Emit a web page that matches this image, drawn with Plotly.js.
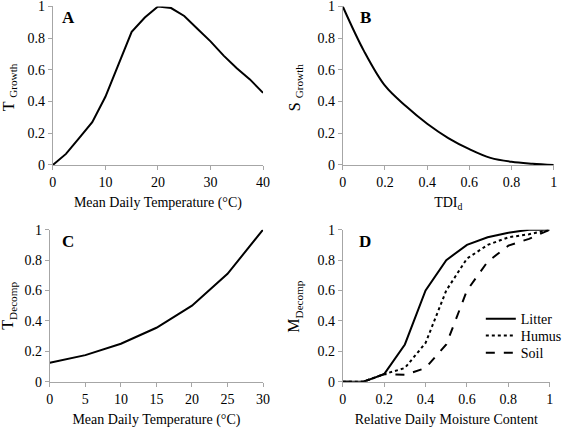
<!DOCTYPE html>
<html>
<head>
<meta charset="utf-8">
<script src="https://cdn.plot.ly/plotly-3.0.1.min.js"></script>
<style>html,body{margin:0;padding:0;background:#fff;}#chart{width:567px;height:430px;}</style>
</head>
<body>
<div id="chart"></div>
<script>
// Panel A: temperature growth response
const tempA = [0, 2.5, 5, 7.5, 10, 12.5, 15, 17.5, 20, 22.5, 25, 27.5, 30, 32.5, 35, 37.5, 40];
const tGrowth = [0, 0.07, 0.17, 0.27, 0.43, 0.64, 0.84, 0.93, 1.0, 0.99, 0.94, 0.86, 0.78, 0.69, 0.61, 0.54, 0.455];
// Panel B: drought index growth response
const tdi = [0, 0.1, 0.2, 0.3, 0.4, 0.5, 0.6, 0.7, 0.8, 0.9, 1.0];
const sGrowth = [1.0, 0.72, 0.5, 0.37, 0.26, 0.17, 0.1, 0.045, 0.02, 0.008, 0];
// Panel C: temperature decomposition response
const tempC = [0, 5, 10, 15, 20, 25, 30];
const tDecomp = [0.125, 0.175, 0.25, 0.355, 0.5, 0.71, 1.0];
// Panel D: moisture decomposition response
const moisture = [0, 0.1, 0.2, 0.3, 0.4, 0.5, 0.6, 0.7, 0.8, 0.9, 1.0];
const litter = [0, 0, 0.05, 0.245, 0.6, 0.8, 0.9, 0.95, 0.98, 1.0, 1.0];
const humus  = [0, 0, 0.05, 0.09, 0.255, 0.6, 0.81, 0.9, 0.95, 0.97, 1.0];
const soil   = [0, 0, 0.05, 0.045, 0.09, 0.245, 0.6, 0.79, 0.895, 0.94, 1.0];
const seriesNames = ['Litter', 'Humus', 'Soil'];
// Tick labels and titles
const yTicks = [0, 0.2, 0.4, 0.6, 0.8, 1];
const yTickText = ['0', '0.2', '0.4', '0.6', '0.8', '1'];
const yTitles = ['T <sub>Growth</sub>', 'S <sub>Growth</sub>', 'T<sub>Decomp</sub>', 'M<sub>Decomp</sub>'];
const panelLetters = ['A', 'B', 'C', 'D'];

const FONT = '"Liberation Serif", "Times New Roman", serif';
const GREY = '#a6a6a6';
const line = (dash, shape) => ({color: '#000', width: 2, dash: dash, shape: shape || 'linear'});

const traces = [
  {x: tempA, y: tGrowth, xaxis: 'x', yaxis: 'y', mode: 'lines', line: line('solid'), showlegend: false},
  {x: tdi, y: sGrowth, xaxis: 'x2', yaxis: 'y2', mode: 'lines', line: line('solid', 'spline'), showlegend: false},
  {x: tempC, y: tDecomp, xaxis: 'x3', yaxis: 'y3', mode: 'lines', line: line('solid'), showlegend: false},
  {x: moisture, y: litter, xaxis: 'x4', yaxis: 'y4', mode: 'lines', line: line('solid'), name: seriesNames[0], legend: 'legend'},
  {x: moisture, y: humus, xaxis: 'x4', yaxis: 'y4', mode: 'lines', line: line('dot'), name: seriesNames[1], legend: 'legend2'},
  {x: moisture, y: soil, xaxis: 'x4', yaxis: 'y4', mode: 'lines', line: line('dash'), name: seriesNames[2], legend: 'legend3'}
];

function xa(domain, range, dtick, anchor, title) {
  return {domain: domain, range: range, dtick: dtick, tick0: 0, anchor: anchor,
    showgrid: false, zeroline: false, showline: true, linecolor: GREY, linewidth: 1,
    ticks: 'outside', ticklen: 4, tickcolor: GREY, tickfont: {family: FONT, size: 14, color: '#000'},
    ticklabeloverflow: 'allow',
    title: {text: title, font: {family: FONT, size: 14, color: '#000'}, standoff: 8}, fixedrange: true};
}
function ya(domain, anchor) {
  return {domain: domain, range: [0, 1], tickmode: 'array', tickvals: yTicks, ticktext: yTickText, anchor: anchor,
    showgrid: false, zeroline: false, showline: true, linecolor: GREY, linewidth: 1,
    ticks: 'outside', ticklen: 4, tickcolor: GREY, tickfont: {family: FONT, size: 14, color: '#000'},
    ticklabeloverflow: 'allow', fixedrange: true};
}

const topY = [0.6163, 0.9849];
const botY = [0.1123, 0.4658];
const leg = (y) => ({x: 0.851, y: y, xanchor: 'left', yanchor: 'middle', bgcolor: 'rgba(0,0,0,0)',
    font: {family: FONT, size: 14, color: '#000'}, itemwidth: 30});

const yTitleAnn = (i, x, y) => ({text: yTitles[i], xref: 'paper', yref: 'paper', x: x, y: y,
  xanchor: 'center', yanchor: 'middle', textangle: -90, showarrow: false,
  font: {family: FONT, size: 16, color: '#000'}});
const letterAnn = (i, ax, x) => ({text: '<b>' + panelLetters[i] + '</b>', xref: ax[0] + ' domain', yref: ax[1] + ' domain',
  x: x, y: 1.0, xanchor: 'left', yanchor: 'top', showarrow: false, font: {family: FONT, size: 17, color: '#000'}});

const layout = {
  width: 567, height: 430,
  margin: {l: 0, r: 0, t: 0, b: 0},
  paper_bgcolor: '#fff', plot_bgcolor: '#fff',
  font: {family: FONT, color: '#000'},
  xaxis: xa([0.0935, 0.4656], [0, 40], 10, 'y', 'Mean Daily Temperature (°C)'),
  yaxis: ya(topY, 'x'),
  xaxis2: xa([0.6067, 0.9801], [0, 1], 0.2, 'y2', 'TDI<sub>d</sub>'),
  yaxis2: ya(topY, 'x2'),
  xaxis3: xa([0.0882, 0.4656], [0, 30], 5, 'y3', 'Mean Daily Temperature (°C)'),
  yaxis3: ya(botY, 'x3'),
  xaxis4: xa([0.6067, 0.9730], [0, 1], 0.2, 'y4', 'Relative Daily Moisture Content'),
  yaxis4: ya(botY, 'x4'),
  showlegend: true,
  legend: leg(0.258),
  legend2: leg(0.2186),
  legend3: leg(0.179),
  annotations: [
    yTitleAnn(0, 9 / 567, 0.797),
    yTitleAnn(1, 296 / 567, 0.797),
    yTitleAnn(2, 9 / 567, 0.289),
    yTitleAnn(3, 296 / 567, 0.289),
    letterAnn(0, ['x', 'y'], 0.035),
    letterAnn(1, ['x2', 'y2'], 0.07),
    letterAnn(2, ['x3', 'y3'], 0.05),
    letterAnn(3, ['x4', 'y4'], 0.07)
  ]
};

Plotly.newPlot('chart', traces, layout, {displayModeBar: false, staticPlot: true});
</script>
</body>
</html>
